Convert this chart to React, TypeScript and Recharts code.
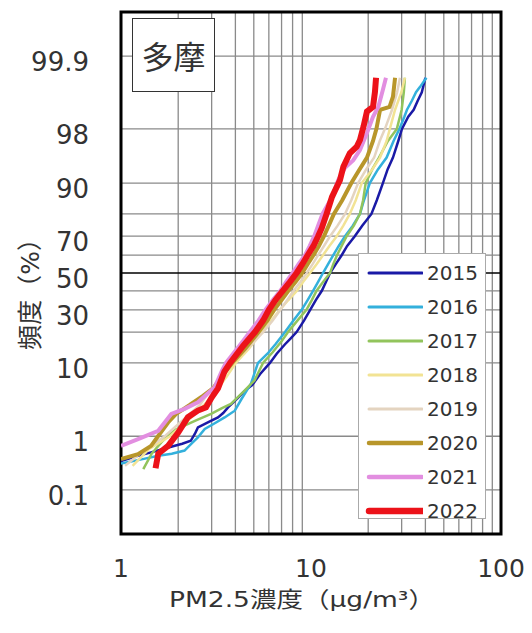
import { LineChart, Line, XAxis, YAxis, CartesianGrid, ReferenceLine, ReferenceArea } from 'recharts';

// [PM2.5 concentration (µg/m3), cumulative frequency (%)]
const y2015: [number, number][] = [
  [1.0, 0.37], [1.2, 0.45], [1.44, 0.53], [1.7, 0.62], [1.92, 0.69], [2.1, 0.75], [2.33, 0.84], [2.45, 1.1],
  [2.54, 1.39], [2.9, 1.7], [3.24, 1.98], [3.45, 2.3], [3.66, 2.78], [4.1, 3.7], [4.49, 4.69], [4.9, 5.5],
  [5.4, 7.5], [6.08, 10], [6.6, 12.5], [7.3, 15.5], [7.8, 17.5], [8.4, 20], [9.2, 25], [9.9, 30], [10.6, 35],
  [11.4, 40], [12.0, 45], [12.6, 50], [13.5, 55], [14.5, 60], [15.5, 65], [17.0, 70], [18.6, 75], [20.8, 80],
  [22.2, 85], [23.9, 90], [25.3, 93], [27, 95], [28.8, 97], [30.1, 98], [32.5, 98.7], [34.7, 99], [36.5, 99.3],
  [38.3, 99.5], [40.0, 99.73],
];
const y2016: [number, number][] = [
  [1.0, 0.33], [1.3, 0.4], [1.57, 0.46], [1.85, 0.5], [2.16, 0.57], [2.35, 0.75], [2.54, 0.96], [2.76, 1.31],
  [3.1, 1.6], [3.51, 1.98], [3.97, 2.49], [4.3, 3.6], [4.83, 5.75], [5.26, 10], [5.9, 12.5], [6.5, 15.5],
  [7.3, 20], [8.1, 25], [8.93, 30], [9.6, 35], [10.25, 40], [10.9, 45], [11.56, 50], [12.3, 55], [13.1, 60],
  [14.0, 65], [15.1, 70], [16.6, 75], [18.1, 80], [19.0, 85], [20.4, 90], [22.5, 93], [25, 95], [27.2, 97],
  [29.2, 98], [31, 98.7], [32, 99], [34, 99.3], [35.7, 99.5], [37.5, 99.6], [40.5, 99.73],
];
const y2017: [number, number][] = [
  [1.31, 0.26], [1.45, 0.5], [1.63, 0.79], [1.75, 1.0], [1.95, 1.3], [2.5, 1.8], [2.98, 2.23], [3.4, 2.7],
  [3.79, 3.1], [4.4, 4.5], [5.05, 6.3], [5.59, 10], [6.3, 13], [7.0, 16.5], [7.57, 20], [8.5, 25], [9.46, 30],
  [10.1, 35], [10.7, 40], [11.6, 45], [12.6, 50], [13.1, 55], [13.7, 60], [14.5, 65], [15.4, 70], [16.8, 75],
  [18.1, 80], [18.8, 85], [19.4, 90], [21, 93], [22.8, 95], [25.4, 97], [28.3, 98], [30, 99], [30.8, 99.5],
  [31.2, 99.73],
];
const y2018: [number, number][] = [
  [1.15, 0.3], [1.4, 0.6], [1.81, 1], [2.1, 1.5], [2.36, 2], [2.8, 3.2], [3.24, 5], [3.6, 7], [4.02, 10],
  [4.7, 14], [5.52, 20], [6.2, 25], [6.86, 30], [7.6, 35], [8.44, 40], [9.1, 45], [9.88, 50], [10.7, 55],
  [11.56, 60], [12.5, 65], [13.66, 70], [14.8, 75], [16.0, 80], [17.2, 85], [18.5, 90], [21, 93], [23.07, 95],
  [25, 97], [26, 98], [27.7, 99], [29.9, 99.5], [31.2, 99.73],
];
const y2019: [number, number][] = [
  [1.05, 0.3], [1.3, 0.55], [1.7, 1], [2.2, 2], [2.6, 3], [3.0, 5], [3.4, 7], [3.85, 10], [4.8, 15], [5.6, 20],
  [6.3, 25], [6.9, 30], [7.5, 35], [8.1, 40], [8.8, 45], [9.5, 50], [10.2, 55], [10.9, 60], [11.7, 65],
  [12.6, 70], [13.8, 75], [15.1, 80], [16.3, 85], [17.7, 90], [19.5, 93], [21.5, 95], [23, 97], [24.5, 98],
  [26.7, 99], [28.4, 99.5], [29.4, 99.73],
];
const y2020: [number, number][] = [
  [1.0, 0.4], [1.23, 0.49], [1.44, 0.69], [1.6, 1.1], [1.77, 1.66], [1.95, 2.23], [2.3, 3], [2.7, 4], [3.05, 5],
  [3.4, 7], [3.85, 10], [4.5, 14], [5.3, 20], [5.9, 25], [6.4, 30], [7.0, 35], [7.6, 40], [8.3, 45], [9.0, 50],
  [9.6, 55], [10.3, 60], [11.0, 65], [11.7, 70], [12.4, 75], [13.2, 80], [14.6, 85], [16.3, 90], [18, 93],
  [19.7, 95], [21.2, 97], [22.1, 98], [23.1, 99], [25.9, 99.1], [27.0, 99.4], [27.7, 99.73],
];
const y2021: [number, number][] = [
  [1.0, 0.69], [1.23, 0.9], [1.57, 1.23], [1.84, 2.23], [2.16, 2.64], [2.54, 3.27], [3.11, 5.17], [3.4, 8.2],
  [3.57, 10], [4.2, 15], [4.77, 20], [5.3, 25], [5.75, 30], [6.3, 35], [6.9, 40], [7.4, 45], [8.0, 50],
  [8.6, 55], [9.3, 60], [9.85, 65], [10.4, 70], [10.9, 75], [11.5, 80], [12.9, 86], [13.9, 90.7], [15.1, 93.3],
  [16.7, 94.6], [18.1, 96], [19.7, 97.7], [21.2, 98.7], [22.6, 99.1], [23.9, 99.55], [24.8, 99.73],
];
const y2022: [number, number][] = [
  [1.52, 0.27], [1.57, 0.5], [1.77, 0.69], [2.0, 1.15], [2.25, 2.0], [2.54, 2.5], [2.8, 2.78], [3.0, 3.8],
  [3.24, 5], [3.5, 8], [3.75, 10], [4.4, 15], [5.07, 20], [5.6, 25], [6.0, 30], [6.5, 35], [7.1, 40],
  [7.75, 45], [8.4, 50], [9.0, 55], [9.6, 60], [10.3, 65], [10.9, 70], [11.4, 74], [12.1, 80.2], [12.9, 86.1],
  [13.4, 88.1], [14.2, 90.7], [14.8, 93.5], [16.0, 95.6], [17.4, 96.4], [18.1, 97.1], [18.9, 98.15],
  [19.7, 98.93], [21.2, 99.1], [21.7, 99.5], [22.0, 99.73],
];

const years = ['2015', '2016', '2017', '2018', '2019', '2020', '2021', '2022'];
const seriesData = [y2015, y2016, y2017, y2018, y2019, y2020, y2021, y2022];
const colors = ['#1a1aa6', '#33b0dc', '#92c45c', '#f2e394', '#e4d4c0', '#b8962a', '#e28ee0', '#ec1219'];
const widths = [2.5, 2.5, 2.5, 2.5, 2.5, 4, 4, 6];

const pctTicks = [0.1, 1, 10, 30, 50, 70, 90, 98, 99.9];
const pctGrid = [0.1, 1, 10, 20, 30, 40, 60, 70, 80, 90, 98, 99.9];
const pctRange = [0.01, 99.99];
const concTicks = [1, 10, 100];
const concGrid = [2, 3, 4, 5, 6, 7, 8, 9, 20, 30, 40, 50, 60, 70, 80, 90];

// inverse normal CDF (Acklam), p in percent -> z
function probit(pct: number): number {
  const p = pct / 100;
  const a = [-39.69683028665376, 220.9460984245205, -275.9285104469687, 138.357751867269, -30.66479806614716, 2.506628277459239];
  const b = [-54.47609879822406, 161.5858368580409, -155.6989798598866, 66.80131188771972, -13.28068155288572];
  const c = [-0.007784894002430293, -0.3223964580411365, -2.400758277161838, -2.549732539343734, 4.374664141464968, 2.938163982698783];
  const d = [0.007784695709041462, 0.3224671290700398, 2.445134137142996, 3.754408661907416];
  const pl = 0.02425;
  if (p < pl) {
    const q = Math.sqrt(-2 * Math.log(p));
    return (((((c[0] * q + c[1]) * q + c[2]) * q + c[3]) * q + c[4]) * q + c[5]) / ((((d[0] * q + d[1]) * q + d[2]) * q + d[3]) * q + 1);
  }
  if (p > 1 - pl) {
    const q = Math.sqrt(-2 * Math.log(1 - p));
    return -(((((c[0] * q + c[1]) * q + c[2]) * q + c[3]) * q + c[4]) * q + c[5]) / ((((d[0] * q + d[1]) * q + d[2]) * q + d[3]) * q + 1);
  }
  const q = p - 0.5;
  const r = q * q;
  return (((((a[0] * r + a[1]) * r + a[2]) * r + a[3]) * r + a[4]) * r + a[5]) * q / (((((b[0] * r + b[1]) * r + b[2]) * r + b[3]) * r + b[4]) * r + 1);
}

const zTicks = pctTicks.map(probit);
const zGrid = pctGrid.map(probit);
const zDomain = pctRange.map(probit);

const series = seriesData.map((pts) => pts.map(([c, p]) => ({ c, z: probit(p) })));

const font = '"DejaVu Sans", "Noto Sans CJK JP", sans-serif';

// grid positions follow the same log / probability mapping as the axes
function gridX({ offset }: any) {
  return concGrid.map((v) => offset.left + (Math.log10(v) / 2) * offset.width);
}
function gridY({ offset }: any) {
  return zGrid.map((z) => offset.top + ((zDomain[1] - z) / (zDomain[1] - zDomain[0])) * offset.height);
}

function YTick({ y, payload }: any) {
  const i = zTicks.findIndex((z) => Math.abs(z - payload.value) < 1e-6);
  return (
    <text x={89} y={y + 15} textAnchor="end" fontSize={26} fill="#333" fontFamily={font}>
      {i >= 0 ? String(pctTicks[i]) : ''}
    </text>
  );
}

function XTick({ x, payload }: any) {
  return (
    <text x={x} y={577} textAnchor="middle" fontSize={25} fill="#333" fontFamily={font}>
      {payload.value}
    </text>
  );
}

export default function App() {
  return (
    <div style={{ position: 'absolute', left: 0, top: 0, width: 532, height: 633, background: '#fff' }}>
      <LineChart width={532} height={633} margin={{ top: 12, right: 31, bottom: 39, left: 0 }}>
        <CartesianGrid
          stroke="#8a8a8a"
          strokeWidth={1.3}
          verticalCoordinatesGenerator={gridX}
          horizontalCoordinatesGenerator={gridY}
        />
        <XAxis
          type="number"
          dataKey="c"
          scale="log"
          domain={[1, 100]}
          ticks={concTicks}
          allowDataOverflow
          height={60}
          axisLine={false}
          tickLine={false}
          tick={<XTick />}
        />
        <YAxis
          type="number"
          dataKey="z"
          domain={zDomain}
          ticks={zTicks}
          allowDataOverflow
          width={121}
          axisLine={false}
          tickLine={false}
          tick={<YTick />}
        />
        <ReferenceLine y={0} stroke="#000" strokeWidth={1.5} />
        {series.map((d, i) => (
          <Line
            key={years[i]}
            data={d}
            dataKey="z"
            name={years[i]}
            type="linear"
            stroke={colors[i]}
            strokeWidth={widths[i]}
            dot={false}
            isAnimationActive={false}
          />
        ))}
        <ReferenceArea x1={1} x2={100} y1={zDomain[0]} y2={zDomain[1]} fill="none" fillOpacity={0} stroke="#000" strokeWidth={3} />
      </LineChart>

      <svg width={532} height={633} style={{ position: 'absolute', left: 0, top: 0, pointerEvents: 'none' }}>
        <text x={302} y={607} textAnchor="middle" fontSize={22} fill="#333" fontFamily={font} textLength={266} lengthAdjust="spacingAndGlyphs">
          PM2.5濃度（μg/m³）
        </text>
        <text x={0} y={0} transform="translate(39,288) rotate(-90)" textAnchor="middle" fontSize={25} fill="#333" fontFamily={font}>
          頻度（%）
        </text>
      </svg>

      <div
        style={{
          position: 'absolute', left: 132, top: 18, width: 81, height: 72, border: '1px solid #333', background: '#fff',
          display: 'flex', alignItems: 'center', justifyContent: 'center', fontFamily: '"Noto Sans CJK JP", sans-serif',
          fontSize: 32, color: '#333',
        }}
      >
        多摩
      </div>

      <div
        style={{
          position: 'absolute', left: 358, top: 253, width: 128, height: 266, border: '1px solid #aaa',
          background: '#fff', paddingTop: 2, boxSizing: 'border-box',
        }}
      >
        {years.map((yr, i) => (
          <div key={yr} style={{ height: 34, display: 'flex', alignItems: 'center' }}>
            <svg width={64} height={34} style={{ flex: 'none' }}>
              <line x1={10} x2={63} y1={17} y2={17} stroke={colors[i]} strokeWidth={widths[i] + 0.5} strokeLinecap="round" />
            </svg>
            <span style={{ fontFamily: font, fontSize: 20, color: '#333', marginLeft: 4 }}>{yr}</span>
          </div>
        ))}
      </div>
    </div>
  );
}
